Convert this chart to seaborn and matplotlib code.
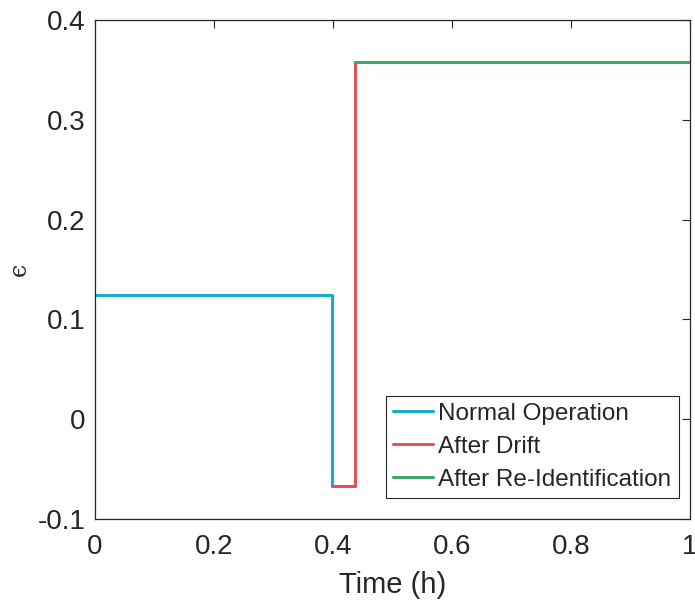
import matplotlib
matplotlib.use("Agg")
import matplotlib.pyplot as plt
import seaborn as sns
import pandas as pd

# Data
normal_t = [0.0, 0.398]
normal_eps = [0.124, -0.067]
drift_t = [0.398, 0.437]
drift_eps = [-0.067, 0.358]
reid_t = [0.437, 1.0]
reid_eps = [0.358, 0.358]
labels = ["Normal Operation", "After Drift", "After Re-Identification"]
colors = ["#17AECB", "#E5505C", "#3DAA6B"]
xticks = [0, 0.2, 0.4, 0.6, 0.8, 1]
xtick_labels = ["0", "0.2", "0.4", "0.6", "0.8", "1"]
yticks = [-0.1, 0, 0.1, 0.2, 0.3, 0.4]
ytick_labels = ["-0.1", "0", "0.1", "0.2", "0.3", "0.4"]

df = pd.concat([
    pd.DataFrame({"t": normal_t, "eps": normal_eps, "phase": labels[0]}),
    pd.DataFrame({"t": drift_t, "eps": drift_eps, "phase": labels[1]}),
    pd.DataFrame({"t": reid_t, "eps": reid_eps, "phase": labels[2]}),
], ignore_index=True)

sns.set_style("white")
plt.rcParams['font.family'] = ['Liberation Sans', 'DejaVu Sans']

fig = plt.figure(figsize=(6.95, 6.14), dpi=100)
ax = fig.add_axes([95/695, 1-519/614, (690-95)/695, (519-20)/614])

sns.lineplot(data=df, x="t", y="eps", hue="phase", palette=dict(zip(labels, colors)),
             estimator=None, sort=False, drawstyle="steps-post", linewidth=2.2, ax=ax)

ax.set_xlim(0, 1)
ax.set_ylim(-0.1, 0.4)
ax.set_xticks(xticks)
ax.set_xticklabels(xtick_labels)
ax.set_yticks(yticks)
ax.set_yticklabels(ytick_labels)
ax.tick_params(direction="in", length=6, width=0.8, colors="#262626", labelsize=20,
               top=True, right=True, labeltop=False, labelright=False)
ax.tick_params(axis="x", pad=11)
ax.tick_params(axis="y", pad=7)
for lab in ax.get_xticklabels() + ax.get_yticklabels():
    lab.set_color("#262626")
for s in ax.spines.values():
    s.set_visible(True)
    s.set_color("#262626")
    s.set_linewidth(0.9)
ax.set_xlabel("Time (h)", fontsize=21, color="#262626", labelpad=8)
ax.set_ylabel("\u03f5", fontsize=17, color="#262626", family=["DejaVu Serif", "DejaVu Sans"])
ax.yaxis.set_label_coords(-0.108, 0.5)

leg = ax.legend(loc="lower right", bbox_to_anchor=(0.981, 0.042), fontsize=17.5,
                frameon=True, fancybox=False, edgecolor="#262626", framealpha=1,
                handlelength=1.65, handletextpad=0.2, borderpad=0.3, labelspacing=0.45,
                borderaxespad=0)
leg.get_frame().set_linewidth(0.8)

fig.savefig("out.png", dpi=100)
